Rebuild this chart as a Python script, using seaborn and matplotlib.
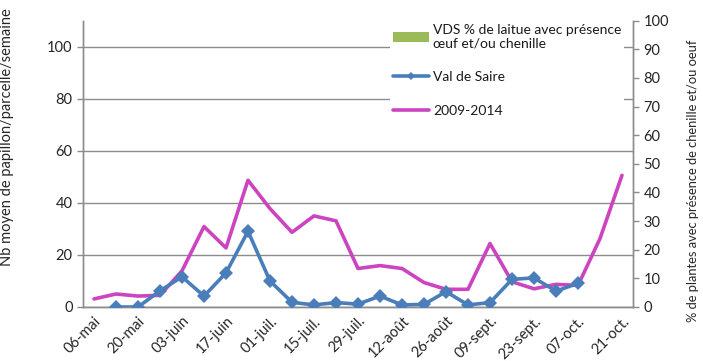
import numpy as np
import pandas as pd
import seaborn as sns
import matplotlib
matplotlib.use("Agg")
import matplotlib.pyplot as plt
from matplotlib.lines import Line2D
from matplotlib.patches import Patch

# Weekly sampling dates (one category per week)
weeks = ["06-mai", "13-mai", "20-mai", "27-mai", "03-juin", "10-juin", "17-juin",
         "24-juin", "01-juil.", "08-juil.", "15-juil.", "22-juil.", "29-juil.",
         "05-août", "12-août", "19-août", "26-août", "02-sept.", "09-sept.",
         "16-sept.", "23-sept.", "30-sept.", "07-oct.", "14-oct.", "21-oct."]

# Mean number of moths per plot per week, 2009-2014 reference
moyenne_2009_2014 = [3.1, 5.0, 4.2, 4.5, 13.9, 30.9, 22.7, 48.7, 37.8, 28.7, 35.0,
                     33.1, 14.8, 15.9, 14.8, 9.4, 6.8, 6.8, 24.4, 9.7, 7.0, 8.7,
                     8.3, 26.3, 50.6]

# Mean number of moths per plot per week, Val de Saire
val_de_saire = [np.nan, 0, 0, 6.2, 11.6, 4.2, 13.1, 29.1, 10.0, 1.8, 0.8, 1.7,
                1.1, 4.2, 0.8, 1.0, 5.9, 0.8, 1.7, 10.6, 11.2, 6.1, 9.1,
                np.nan, np.nan]

# % of lettuce with eggs and/or caterpillars (VDS), right axis
vds_pct = [np.nan] * 10 + [2.5] + [np.nan] * 14

left_ticks = [0, 20, 40, 60, 80, 100]
right_ticks = list(range(0, 101, 10))

MAGENTA = "#CC44BF"
BLUE = "#4A7EBB"
GREEN = "#9BBB59"
GREY = "#8C8C8C"

sns.set_theme(style="white")
plt.rcParams["font.family"] = ["Lato", "DejaVu Sans"]
plt.rcParams["text.color"] = "#1a1a1a"

df = pd.DataFrame({
    "pos": np.arange(len(weeks)),
    "semaine": weeks,
    "moyenne": moyenne_2009_2014,
    "vds": val_de_saire,
    "pct": vds_pct,
})

fig = plt.figure(figsize=(7.03, 3.61), dpi=100)
ax = fig.add_axes([83 / 703, 1 - 307 / 361, 550 / 703, (307 - 20.7) / 361])
ax2 = ax.twinx()

# Bars on the secondary axis
ax2.bar(df["pos"], df["pct"].fillna(0), width=0.33, color=GREEN, zorder=2)
ax2.set_ylim(0, 100)
ax2.set_yticks(right_ticks)

# Lines on the primary axis, drawn above the bars
ax.set_zorder(ax2.get_zorder() + 1)
ax.patch.set_visible(False)

sns.lineplot(data=df, x="pos", y="moyenne", ax=ax, color=MAGENTA, linewidth=2.6,
             zorder=3)
sns.lineplot(data=df.dropna(subset=["vds"]), x="pos", y="vds", ax=ax, color=BLUE,
             linewidth=2.6, marker="D", markersize=7.5, markeredgewidth=0,
             zorder=4)

ax.set_xlim(-0.5, len(weeks) - 0.5)
ax.set_ylim(0, 110)
ax.set_yticks(left_ticks)
ax.yaxis.grid(True, color=GREY, linewidth=1.0)
ax.set_axisbelow(True)

# Category boundaries as tick marks, labels every two weeks
ax.set_xticks(np.arange(-0.5, len(weeks)), minor=True)
ax.set_xticks(np.arange(0, len(weeks), 2))
ax.set_xticklabels(weeks[::2], rotation=45, ha="right", rotation_mode="anchor",
                   fontsize=10.5)
ax.tick_params(axis="x", which="major", length=0, pad=5)
ax.tick_params(axis="x", which="minor", length=4, color=GREY, width=1)
ax.tick_params(axis="y", which="major", length=4, color=GREY, width=1,
               labelsize=10.5, direction="out", left=True)
ax2.tick_params(axis="y", which="major", length=4, color=GREY, width=1,
                labelsize=10.5, direction="out", right=True)

for a in (ax, ax2):
    a.spines["top"].set_visible(False)
    for side in ("left", "right", "bottom"):
        a.spines[side].set_color(GREY)
        a.spines[side].set_linewidth(1.0)

ax.set_xlabel("")
ax.set_ylabel("Nb moyen de papillon/parcelle/semaine", fontsize=10.5)
ax.yaxis.set_label_coords(-0.125, 0.595)
ax2.set_ylabel("% de plantes avec présence de chenille et/ou oeuf", fontsize=9.3,
               rotation=90)
ax2.yaxis.set_label_coords(1.098, 0.44)

handles = [
    Patch(facecolor=GREEN, edgecolor="none"),
    Line2D([], [], color=BLUE, linewidth=2.6, marker="D", markersize=4.5,
           markeredgewidth=0),
    Line2D([], [], color=MAGENTA, linewidth=2.6),
]
labels = ["VDS % de laitue avec présence\nœuf et/ou chenille", "Val de Saire",
          "2009-2014"]
leg = ax.legend(handles, labels, loc="upper left",
                bbox_to_anchor=(383 / 703, 1 - 14 / 361),
                bbox_transform=fig.transFigure, frameon=True, fontsize=10,
                handlelength=2.6, handletextpad=0.3, labelspacing=1.55,
                borderpad=0.2, fancybox=False)
leg.get_frame().set_facecolor("white")
leg.get_frame().set_edgecolor("none")
leg.get_frame().set_alpha(1)
leg.set_zorder(10)

fig.savefig("out.png", dpi=100)
